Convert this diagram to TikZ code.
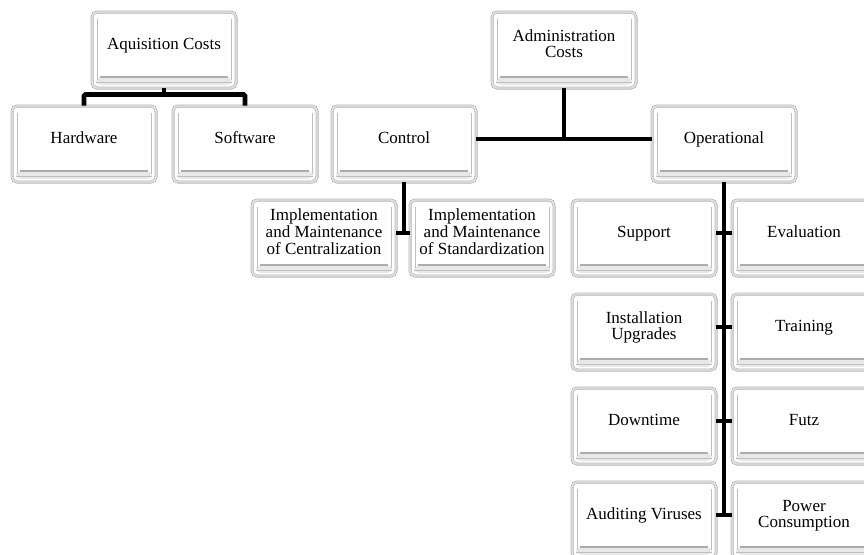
\documentclass[tikz,border=0pt]{standalone}
\usepackage{fontspec}
\setmainfont{Liberation Serif}
\usepackage{tikz}
\newcommand{\boxfont}{\fontsize{17}{16.2}\selectfont}
% text sits a bit above the middle of each frame
\newcommand{\boxtext}[1]{\raisebox{4pt}[\height][\depth]{\begin{tabular}{@{}c@{}}#1\end{tabular}}}
\tikzstyle{framebox} = [rectangle, rounded corners=5pt, draw=gray!60, line width=0.8pt,
    double=gray!18, double distance=1.4pt, fill=white, minimum width=144pt,
    minimum height=76pt, align=center, font=\boxfont, inner sep=1pt,
    path picture={
      \fill [gray!18] ([xshift=4pt,yshift=3pt]path picture bounding box.south west)
        rectangle ([xshift=-4pt,yshift=11pt]path picture bounding box.south east);
      \draw [gray!65, line width=1.1pt] ([xshift=8pt,yshift=11pt]path picture bounding box.south west)
        -- ([xshift=-8pt,yshift=11pt]path picture bounding box.south east);
      \draw [gray!50, line width=0.7pt] ([xshift=4pt,yshift=6pt]path picture bounding box.south west)
        -- ([xshift=-4pt,yshift=6pt]path picture bounding box.south east);
      \draw [gray!50, line width=0.9pt] ([xshift=5pt,yshift=-7pt]path picture bounding box.north west)
        -- ([xshift=5pt,yshift=8pt]path picture bounding box.south west);
      \draw [gray!50, line width=0.9pt] ([xshift=-5pt,yshift=-7pt]path picture bounding box.north east)
        -- ([xshift=-5pt,yshift=8pt]path picture bounding box.south east);
    }]
\tikzstyle{link} = [line width=4.8pt, black, rounded corners=1.5pt]

\begin{document}
\begin{tikzpicture}[x=1pt, y=-1pt, node distance=94pt]
    \useasboundingbox (0,0) rectangle (864,554);

    % top nodes
    \node (AcqCosts) [framebox] at (164,50) {\boxtext{Aquisition Costs}};
    \node (AdminCosts) [framebox, right of=AcqCosts, xshift=306pt] {\boxtext{Administration\\Costs}};

    % second row
    \node (Hardware) [framebox, below of=AcqCosts, xshift=-80pt] {\boxtext{Hardware}};
    \node (Software) [framebox, below of=AcqCosts, xshift=81pt] {\boxtext{Software}};
    \node (Control) [framebox, below of=AdminCosts, xshift=-160pt] {\boxtext{Control}};
    \node (Operational) [framebox, below of=AdminCosts, xshift=160pt] {\boxtext{Operational}};

    % control nodes
    \node (ImplCentral) [framebox, below of=Control, xshift=-80pt] {\boxtext{Implementation\\and Maintenance\\of Centralization}};
    \node (ImplStandard) [framebox, below of=Control, xshift=78pt] {\boxtext{Implementation\\and Maintenance\\of Standardization}};

    % operational nodes
    \node (Support) [framebox, below of=Operational, xshift=-80pt] {\boxtext{Support}};
    \node (Evaluation) [framebox, below of=Operational, xshift=80pt] {\boxtext{Evaluation}};
    \node (InstallUpgrades) [framebox, below of=Support] {\boxtext{Installation\\Upgrades}};
    \node (Training) [framebox, below of=Evaluation] {\boxtext{Training}};
    \node (Downtime) [framebox, below of=InstallUpgrades] {\boxtext{Downtime}};
    \node (Futz) [framebox, below of=Training] {\boxtext{Futz}};
    \node (AuditViruses) [framebox, below of=Downtime] {\boxtext{Auditing Viruses}};
    \node (PowerUse) [framebox, below of=Futz] {\boxtext{Power\\Consumption}};

    % helper points
    \coordinate (AcqBus) at ([yshift=-6pt]AcqCosts.south);
    \coordinate (AdminBus) at ([yshift=5pt]Control.east);
    \coordinate (CtrlTee) at ([yshift=5pt]ImplCentral.east);
    \coordinate (OpEnd) at ([yshift=5pt]AuditViruses.east);

    % connectors
    \draw [link] (AcqCosts.south) -- (AcqBus);
    \draw [link] (Hardware.north) |- (AcqBus) -| (Software.north);

    \draw [link] (AdminCosts.south) -- (AdminCosts.south |- AdminBus);
    \draw [link] (AdminBus) -- ([yshift=5pt]Operational.west);

    \draw [link] (Control.south) -- (Control.south |- CtrlTee);
    \draw [link] (CtrlTee) -- ([yshift=5pt]ImplStandard.west);

    \draw [link] (Operational.south) -- (Operational.south |- OpEnd);
    \draw [link] ([yshift=5pt]Support.east) -- ([yshift=5pt]Evaluation.west);
    \draw [link] ([yshift=5pt]InstallUpgrades.east) -- ([yshift=5pt]Training.west);
    \draw [link] ([yshift=5pt]Downtime.east) -- ([yshift=5pt]Futz.west);
    \draw [link] (OpEnd) -- ([yshift=5pt]PowerUse.west);
\end{tikzpicture}
\end{document}
